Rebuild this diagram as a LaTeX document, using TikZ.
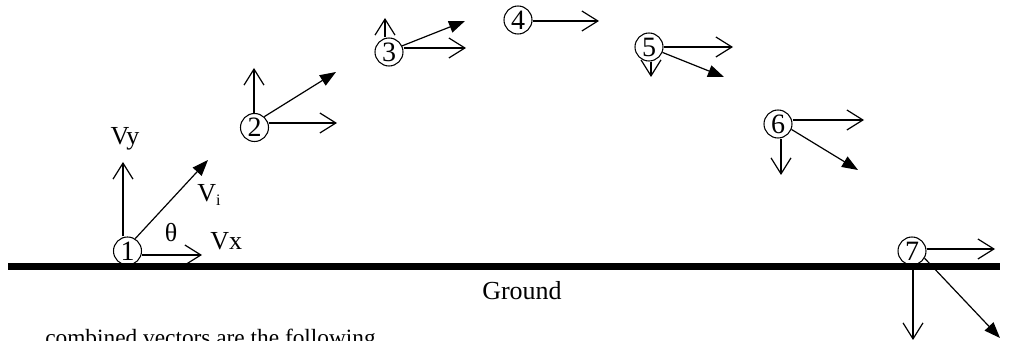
\documentclass[tikz,border=0pt]{standalone}
\usepackage{fontspec}
\setmainfont{Liberation Serif}
\usetikzlibrary{arrows.meta}
\tikzset{
 num/.style={circle, draw, line width=0.8pt, minimum size=21pt, inner sep=0pt, font=\fontsize{21}{21}\selectfont},
 vec/.style={line width=0.9pt, -{Straight Barb[length=12pt,width=15pt]}},
 res/.style={line width=0.9pt, -{Triangle[length=12pt,width=9pt]}},
 lbl/.style={font=\fontsize{19.5}{19.5}\selectfont, inner sep=0pt},
 groundline/.style={line width=5.25pt}
}
\begin{document}
\begin{tikzpicture}[x=0.75pt,y=-0.75pt]
\useasboundingbox (0,0) rectangle (1017,341);
% ground
\coordinate (gA) at (8,267);
\coordinate (gB) at (1000,267);
\draw[groundline] (gA) -- (gB);
\node[lbl, anchor=base east] (gl) at (562,300) {Ground};
\node[lbl, anchor=base west, font=\fontsize{17.5}{17.5}\selectfont] (bt) at (45,346) {combined vectors are the following};

% balls
\node[num] (c1) at (127.5,251) {1};
\node[num] (c2) at (254.5,127.5) {2};
\node[num] (c3) at (389,52) {3};
\node[num] (c4) at (518,20) {4};
\node[num] (c5) at (649,47) {5};
\node[num] (c6) at (778,124) {6};
\node[num] (c7) at (912,251) {7};

% tips
\coordinate (v1) at (123,162);
\coordinate (h1) at (202,255);
\coordinate (d1) at (208,160);
\coordinate (v2) at (254,68);
\coordinate (h2) at (337,123);
\coordinate (d2) at (336,72);
\coordinate (v3) at (385,18);
\coordinate (h3) at (466,48);
\coordinate (d3) at (465,21);
\coordinate (h4) at (599,21);
\coordinate (v5) at (651,77);
\coordinate (h5) at (733,47);
\coordinate (d5) at (724,77);
\coordinate (v6) at (781,175);
\coordinate (h6) at (864,120);
\coordinate (d6) at (858,170);
\coordinate (v7) at (913,340);
\coordinate (h7) at (995,249);
\coordinate (d7) at (1000,338);

% vectors
\draw[vec] (v1 |- c1.north) -- (v1);
\draw[vec] (c1.east |- h1) -- (h1);
\draw[res] (c1.58) -- (d1);

\draw[vec] (v2 |- c2.north) -- (v2);
\draw[vec] (c2.east |- h2) -- (h2);
\draw[res] (c2.48) -- (d2);

\draw[vec] (v3 |- c3.north) -- (v3);
\draw[vec] (c3.east |- h3) -- (h3);
\draw[res] (c3.25) -- (d3);

\draw[vec] (c4.east |- h4) -- (h4);

\draw[vec] (v5 |- c5.south) -- (v5);
\draw[vec] (c5.east |- h5) -- (h5);
\draw[res] (c5.-22) -- (d5);

\draw[vec] (v6 |- c6.south) -- (v6);
\draw[vec] (c6.east |- h6) -- (h6);
\draw[res] (c6.-22) -- (d6);

\draw[vec] (v7 |- c7.south) -- (v7);
\draw[vec] (c7.east |- h7) -- (h7);
\draw[res] (c7.-30) -- (d7);

% labels
\node[lbl, anchor=base] (lvy) at (125,145) {Vy};
\node[lbl, anchor=base west] (lvi) at (197,202) {V\raisebox{-0.3ex}{\fontsize{12}{12}\selectfont i}};
\node[lbl, anchor=base] (lth) at (171,242) {θ};
\node[lbl, anchor=base west] (lvx) at (210,250) {Vx};
\end{tikzpicture}
\end{document}
